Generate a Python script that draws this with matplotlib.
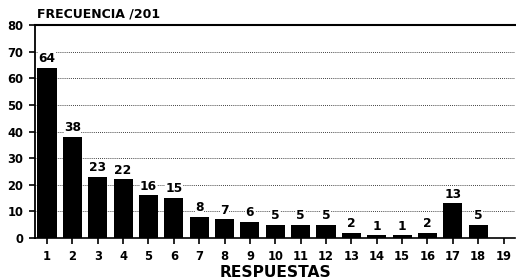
import matplotlib
matplotlib.use("Agg")
import matplotlib.pyplot as plt

# data
respuestas = list(range(1, 20))
frecuencia = [64, 38, 23, 22, 16, 15, 8, 7, 6, 5, 5, 5, 2, 1, 1, 2, 13, 5, 0]
etiquetas = ["64", "38", "23", "22", "16", "15", "8", "7", "6", "5", "5", "5",
             "2", "1", "1", "2", "13", "5", ""]
yticks = [0, 10, 20, 30, 40, 50, 60, 70, 80]

plt.rcParams['font.family'] = ['DejaVu Sans']
plt.rcParams['font.weight'] = 'bold'

fig = plt.figure(figsize=(5.16, 2.8), dpi=100)
ax = fig.add_axes([0.068, 0.15, 0.93, 0.76])

# dotted grid
for y in yticks[1:-1]:
    ax.axhline(y, color='black', linestyle=(0, (1, 1.5)), linewidth=0.6, zorder=0)

ax.bar(respuestas, frecuencia, width=0.75, color='black', zorder=2)

for x, v, t in zip(respuestas, frecuencia, etiquetas):
    if t:
        ax.text(x, v + 1.0, t, ha='center', va='bottom', fontsize=8.8,
                fontweight='bold', zorder=3,
                bbox=dict(facecolor='white', edgecolor='none', pad=0.3))

ax.set_xlim(0.53, 19.45)
ax.set_ylim(0, 80)
ax.set_xticks(respuestas)
ax.set_yticks(yticks)
ax.tick_params(axis='both', labelsize=8.3, width=1.2, length=4.5, direction='out')
ax.tick_params(axis='x', pad=4)
ax.tick_params(axis='y', pad=4)
for lab in ax.get_xticklabels() + ax.get_yticklabels():
    lab.set_fontweight('bold')

ax.spines['right'].set_visible(False)
ax.spines['top'].set_linewidth(1.5)
ax.spines['left'].set_linewidth(1.3)
ax.spines['bottom'].set_linewidth(1.2)

fig.text(0.534, 0.028, 'RESPUESTAS', fontsize=11.2, fontweight='bold',
         ha='center', va='center')
fig.text(0.072, 0.95, 'FRECUENCIA /201', fontsize=9, fontweight='bold',
         ha='left', va='center')

fig.savefig('out.png', dpi=100)
